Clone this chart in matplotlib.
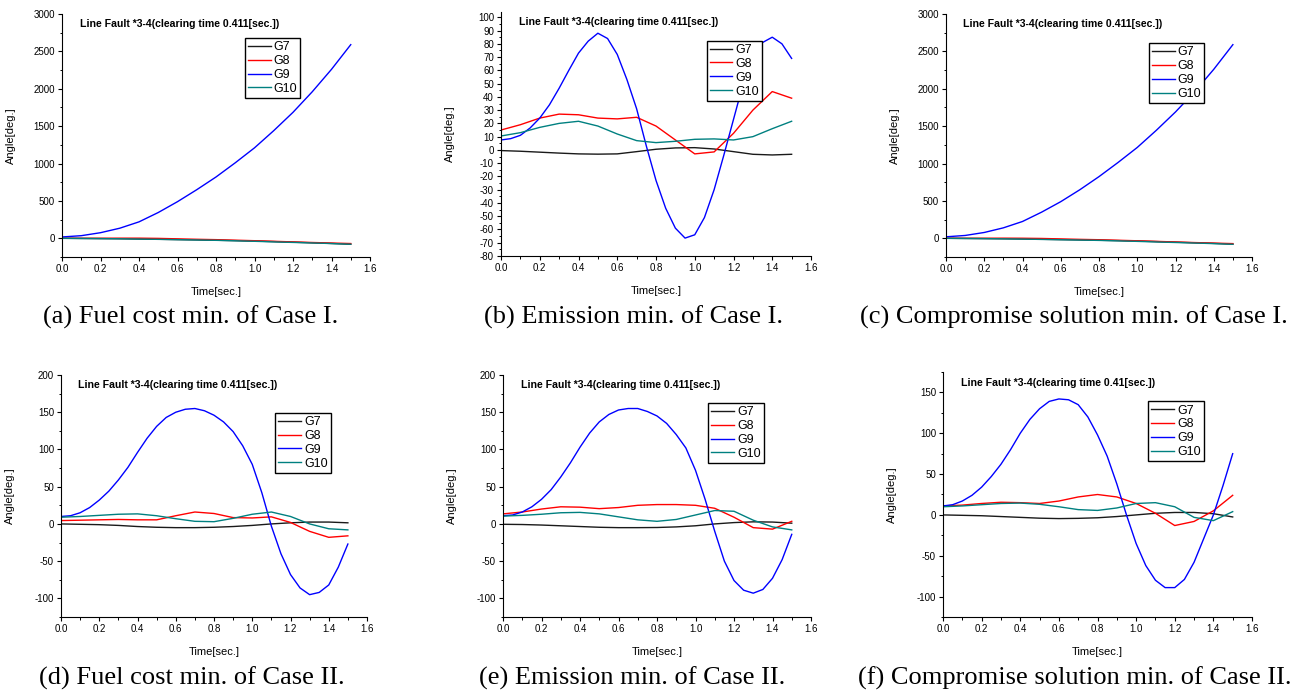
import matplotlib
matplotlib.use("Agg")
import matplotlib.pyplot as plt
from matplotlib.ticker import MultipleLocator, FormatStrFormatter

# time grids (s)
T_COARSE = [0.0, 0.1, 0.2, 0.3, 0.4, 0.5, 0.6, 0.7, 0.8, 0.9, 1.0, 1.1, 1.2, 1.3, 1.4, 1.5]
T_FINE = [0.0, 0.05, 0.1, 0.15, 0.2, 0.25, 0.3, 0.35, 0.4, 0.45, 0.5, 0.55, 0.6, 0.65,
          0.7, 0.75, 0.8, 0.85, 0.9, 0.95, 1.0, 1.05, 1.1, 1.15, 1.2, 1.25, 1.3, 1.35,
          1.4, 1.45, 1.5]

GEN_NAMES = ["G7", "G8", "G9", "G10"]

# (a) Fuel cost min. of Case I
A_G7 = [0, -2, -4, -6, -9, -13, -17, -21, -26, -31, -37, -44, -52, -60, -69, -79]
A_G8 = [0, 0, 1, 2, 2, -1, -7, -13, -18, -25, -32, -40, -48, -56, -63, -70]
A_G9 = [18, 35, 75, 135, 220, 345, 490, 650, 820, 1010, 1210, 1440, 1685, 1960, 2260, 2590]
A_G10 = [0, -2, -4, -6, -10, -14, -18, -22, -27, -33, -40, -48, -55, -62, -70, -79]

# (b) Emission min. of Case I
B_G7 = [-0.5, -1, -1.7, -2.4, -3, -3.2, -3, -1.3, 0.5, 1.5, 1.7, 0.7, -1.3, -3.3, -3.8, -3.3]
B_G8 = [15, 19, 24, 27, 26.5, 24, 23.4, 24.6, 18, 7.5, -3, -1.5, 12.5, 30, 44, 39]
B_G9 = [7.5, 8.5, 11, 16.5, 24, 34, 46.5, 60, 73, 82, 88, 84, 72, 53, 31, 3, -23, -44,
        -59, -66.5, -64, -51, -30, -4, 23, 50, 70, 81, 85, 80, 69]
B_G10 = [10.5, 13, 17, 20, 21.6, 18, 12, 7, 5.5, 6.5, 8, 8.3, 7.5, 10, 16, 21.6]

# (c) Compromise solution min. of Case I
C_G7 = [0, -2, -4, -6, -9, -13, -17, -21, -26, -31, -37, -44, -52, -60, -68, -78]
C_G8 = [0, 0, 1, 2, 1, -2, -8, -14, -19, -26, -33, -41, -49, -57, -64, -71]
C_G9 = [20, 38, 78, 140, 225, 350, 490, 650, 825, 1015, 1215, 1445, 1690, 1960, 2260, 2590]
C_G10 = [0, -2, -4, -7, -10, -15, -19, -23, -28, -34, -41, -49, -56, -63, -71, -80]

# (d) Fuel cost min. of Case II
D_G7 = [0, -0.5, -1, -2, -3.5, -4.5, -5, -5, -4.5, -3.5, -2, 0, 1.5, 2.5, 2.5, 1.5]
D_G8 = [4.5, 5, 5.5, 6, 5.5, 5.5, 11, 16, 14, 8.5, 8, 9.5, 2, -10, -18, -16]
D_G9 = [10, 11, 15, 22, 32, 44, 59, 76, 96, 115, 131, 143, 150, 154, 155, 152, 146, 137,
        124, 105, 80, 42, -3, -40, -68, -86, -95, -92, -82, -58, -27]
D_G10 = [9, 10, 11.5, 13, 13.5, 11, 7, 3.5, 3, 7.5, 13, 16, 10, 0, -6.5, -8]

# (e) Emission min. of Case II
E_G7 = [-0.5, -0.8, -1.5, -2.5, -3.5, -4.5, -5, -5, -4.8, -4, -2.5, 0, 1.8, 2.8, 2.5, 1]
E_G8 = [13.5, 16, 20, 23, 22.5, 20.5, 22, 25, 26, 26, 25, 21, 9, -5, -7, 3.5]
E_G9 = [11, 12, 16, 23, 33, 46, 63, 82, 103, 122, 137, 147, 153, 155, 155, 151, 145, 135,
        120, 102, 72, 33, -10, -50, -76, -89, -93, -88, -73, -48, -14]
E_G10 = [10.5, 11.5, 13, 15, 15.5, 13.5, 9.5, 5.5, 3.5, 6, 12, 18, 17, 5, -4, -8]

# (f) Compromise solution min. of Case II
F_G7 = [0, -0.5, -1, -2, -3, -4, -4.5, -4.2, -3.5, -2, 0, 2, 3, 3, 1.5, -2.5]
F_G8 = [11, 12, 14, 15.5, 15, 14, 17, 22, 25, 22, 14, 2, -13, -8, 5, 24]
F_G9 = [11, 12.5, 17, 24, 34, 47, 62, 80, 100, 117, 130, 139, 142, 141, 135, 120, 98, 72,
        38, 0, -35, -62, -80, -89, -89, -79, -58, -29, 0, 36, 75]
F_G10 = [10, 11, 12.5, 14, 14.5, 13, 10, 6.5, 5.5, 8.5, 14, 15, 10, -3, -7, 4]

COLORS = {"G7": "#1a1a1a", "G8": "#ff0000", "G9": "#0000ff", "G10": "#008080"}

FIG_W, FIG_H = 1305, 693


def px_rect(x0, y0, x1, y1):
    """pixel box (top-left origin) -> figure fraction rect"""
    return [x0 / FIG_W, 1 - y1 / FIG_H, (x1 - x0) / FIG_W, (y1 - y0) / FIG_H]


panels = [
    dict(rect=px_rect(62, 14, 370, 257), ylim=(-250, 3000), major=500, minor=250,
         title="Line Fault *3-4(clearing time 0.411[sec.])",
         caption="(a) Fuel cost min. of Case I.", cap_xy=(191, 317),
         leg=(0.594, 0.901),
         series=[(T_COARSE, A_G7), (T_COARSE, A_G8), (T_COARSE, A_G9), (T_COARSE, A_G10)]),
    dict(rect=px_rect(501, 12, 811, 256), ylim=(-80, 104), major=10, minor=5,
         title="Line Fault *3-4(clearing time 0.411[sec.])",
         caption="(b) Emission min. of Case I.", cap_xy=(633, 317),
         leg=(0.664, 0.882),
         series=[(T_COARSE, B_G7), (T_COARSE, B_G8), (T_FINE, B_G9), (T_COARSE, B_G10)]),
    dict(rect=px_rect(946, 14, 1252, 257), ylim=(-250, 3000), major=500, minor=250,
         title="Line Fault *3-4(clearing time 0.411[sec.])",
         caption="(c) Compromise solution min. of Case I.", cap_xy=(1074, 317),
         leg=(0.663, 0.88),
         series=[(T_COARSE, C_G7), (T_COARSE, C_G8), (T_COARSE, C_G9), (T_COARSE, C_G10)]),
    dict(rect=px_rect(61, 375, 367, 617), ylim=(-125, 200), major=50, minor=25,
         title="Line Fault *3-4(clearing time 0.411[sec.])",
         caption="(d) Fuel cost min. of Case II.", cap_xy=(192, 678),
         leg=(0.70, 0.843),
         series=[(T_COARSE, D_G7), (T_COARSE, D_G8), (T_FINE, D_G9), (T_COARSE, D_G10)]),
    dict(rect=px_rect(503, 375, 811, 617), ylim=(-125, 200), major=50, minor=25,
         title="Line Fault *3-4(clearing time 0.411[sec.])",
         caption="(e) Emission min. of Case II.", cap_xy=(632, 678),
         leg=(0.666, 0.884),
         series=[(T_COARSE, E_G7), (T_COARSE, E_G8), (T_FINE, E_G9), (T_COARSE, E_G10)]),
    dict(rect=px_rect(943, 372, 1252, 617), ylim=(-125, 175), major=50, minor=25,
         title="Line Fault *3-4(clearing time 0.41[sec.])",
         caption="(f) Compromise solution min. of Case II.", cap_xy=(1075, 678),
         leg=(0.664, 0.88),
         series=[(T_COARSE, F_G7), (T_COARSE, F_G8), (T_FINE, F_G9), (T_COARSE, F_G10)]),
]

plt.rcParams["font.family"] = ["Liberation Sans", "DejaVu Sans"]
plt.rcParams["axes.unicode_minus"] = False

fig = plt.figure(figsize=(FIG_W / 100, FIG_H / 100), dpi=100)

for p in panels:
    ax = fig.add_axes(p["rect"])
    for name, (t, v) in zip(GEN_NAMES, p["series"]):
        ax.plot(t, v, color=COLORS[name], lw=1.0, label=name)

    ax.set_xlim(0, 1.6)
    ax.set_ylim(*p["ylim"])
    ax.xaxis.set_major_locator(MultipleLocator(0.2))
    ax.xaxis.set_minor_locator(MultipleLocator(0.1))
    ax.xaxis.set_major_formatter(FormatStrFormatter("%.1f"))
    ax.yaxis.set_major_locator(MultipleLocator(p["major"]))
    ax.yaxis.set_minor_locator(MultipleLocator(p["minor"]))

    for side in ("top", "right"):
        ax.spines[side].set_visible(False)
    for side in ("left", "bottom"):
        ax.spines[side].set_linewidth(0.8)
    ax.tick_params(which="major", direction="out", length=3, width=0.8,
                   labelsize=7, pad=2)
    ax.tick_params(which="minor", direction="out", length=1.8, width=0.7)

    w_px = p["rect"][2] * FIG_W
    h_px = p["rect"][3] * FIG_H
    ax.set_xlabel("Time[sec.]", fontsize=8)
    ax.set_ylabel("Angle[deg.]", fontsize=8)
    ax.xaxis.set_label_coords(0.5, -30 / h_px)
    ax.yaxis.set_label_coords(-46 / w_px, 0.5)

    ax.text(0.057, 0.957, p["title"], transform=ax.transAxes, ha="left", va="center",
            fontsize=7.6, fontweight="bold")

    leg = ax.legend(loc="upper left", bbox_to_anchor=p["leg"], borderaxespad=0,
                    fontsize=9, handlelength=1.8, handletextpad=0.25, borderpad=0.25,
                    labelspacing=0.15, fancybox=False, framealpha=1)
    leg.get_frame().set_edgecolor("black")
    leg.get_frame().set_linewidth(1.0)

    cx, cy = p["cap_xy"]
    fig.text(cx / FIG_W, 1 - cy / FIG_H, p["caption"], ha="center", va="center",
             fontsize=19, family=["Liberation Serif", "DejaVu Serif"])

fig.savefig("out.png", dpi=100)
